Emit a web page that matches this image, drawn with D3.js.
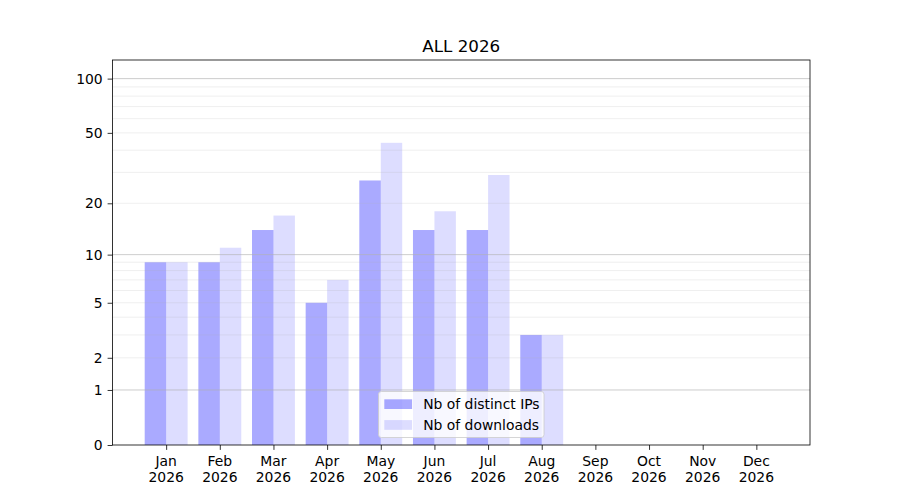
<!DOCTYPE html>
<html><head><meta charset="utf-8">
<script src="https://cdn.jsdelivr.net/npm/d3@7"></script>
<style>body{margin:0;background:#fff}svg{font-family:"DejaVu Sans",sans-serif}</style>
</head><body><svg id="c" width="900" height="500"></svg>
<script>
const title = "ALL 2026";
const months = ["Jan","Feb","Mar","Apr","May","Jun","Jul","Aug","Sep","Oct","Nov","Dec"];
const year = "2026";
const distinctIPs = [9, 9, 14, 5, 27, 14, 14, 3, 0, 0, 0, 0];
const downloads = [9, 11, 17, 7, 44, 18, 29, 3, 0, 0, 0, 0];
const seriesNames = ["Nb of distinct IPs", "Nb of downloads"];
const yTicks = [0, 1, 2, 5, 10, 20, 50, 100];
const majorGrid = [1, 10, 100];
const minorGrid = [2,3,4,5,6,7,8,9,20,30,40,50,60,70,80,90];

const svg = d3.select("#c");
const L = 112.5, R = 810, T = 60, B = 445;
const x = d3.scaleLinear().domain([-1, 12]).range([L, R]);
const y = d3.scaleSymlog().constant(1).domain([0, 126.7]).range([B, T]);
const bw = 0.4;
const colors = ["rgba(0,0,255,0.333)", "rgba(0,0,255,0.133)"];

// bars
const g = svg.append("g");
g.selectAll("rect.ip").data(distinctIPs).join("rect")
  .attr("x", (d,i) => x(i - bw)).attr("width", x(bw) - x(0))
  .attr("y", d => y(d)).attr("height", d => B - y(d))
  .attr("fill", colors[0]);
g.selectAll("rect.dl").data(downloads).join("rect")
  .attr("x", (d,i) => x(i)).attr("width", x(bw) - x(0))
  .attr("y", d => y(d)).attr("height", d => B - y(d))
  .attr("fill", colors[1]);

// grid
svg.append("g").selectAll("line").data(minorGrid).join("line")
  .attr("x1", L).attr("x2", R).attr("y1", d => y(d)).attr("y2", d => y(d))
  .attr("stroke", "#b0b0b0").attr("stroke-opacity", 0.25).attr("stroke-width", 0.8);
svg.append("g").selectAll("line").data(majorGrid).join("line")
  .attr("x1", L).attr("x2", R).attr("y1", d => y(d)).attr("y2", d => y(d))
  .attr("stroke", "#b0b0b0").attr("stroke-opacity", 0.8).attr("stroke-width", 0.8);

// axes
const yAxis = d3.axisLeft(y).tickValues(yTicks).tickFormat(d3.format("d")).tickSize(4.9).tickPadding(4.9);
const ya = svg.append("g").attr("transform", `translate(${L},0)`).call(yAxis);
ya.select(".domain").remove();
ya.selectAll("text").attr("font-size", 13.9).attr("fill", "#000").attr("font-family", "DejaVu Sans");
ya.selectAll("line").attr("stroke", "#000").attr("stroke-width", 0.8);

const xAxis = d3.axisBottom(x).tickValues(d3.range(12)).tickFormat("").tickSize(4.9);
const xa = svg.append("g").attr("transform", `translate(0,${B})`).call(xAxis);
xa.select(".domain").remove();
xa.selectAll("line").attr("stroke", "#000").attr("stroke-width", 0.8);
const lab = svg.append("g").attr("font-size", 13.9).attr("text-anchor", "middle");
months.forEach((m, i) => {
  const t = lab.append("text").attr("x", x(i)).attr("y", B + 20.5);
  t.append("tspan").attr("x", x(i)).text(m);
  t.append("tspan").attr("x", x(i)).attr("dy", 16.2).text(year);
});

// frame
svg.append("rect").attr("x", L).attr("y", T).attr("width", R - L).attr("height", B - T)
  .attr("fill", "none").attr("stroke", "#000").attr("stroke-width", 0.8);

// title
svg.append("text").attr("x", (L + R) / 2).attr("y", 51.7).attr("text-anchor", "middle")
  .attr("font-size", 16.7).text(title);

// legend
const lg = svg.append("g");
lg.append("rect").attr("x", 378.5).attr("y", 391.5).attr("width", 165.5).attr("height", 46)
  .attr("rx", 2.8).attr("fill", "rgba(255,255,255,0.8)").attr("stroke", "#cccccc").attr("stroke-width", 0.8);
seriesNames.forEach((s, i) => {
  lg.append("rect").attr("x", 384.3).attr("y", 399.3 + i * 20.8).attr("width", 27.8).attr("height", 9.7)
    .attr("fill", colors[i]);
  lg.append("text").attr("x", 423.2).attr("y", 409 + i * 20.8).attr("font-size", 13.9).text(s);
});
</script></body></html>
